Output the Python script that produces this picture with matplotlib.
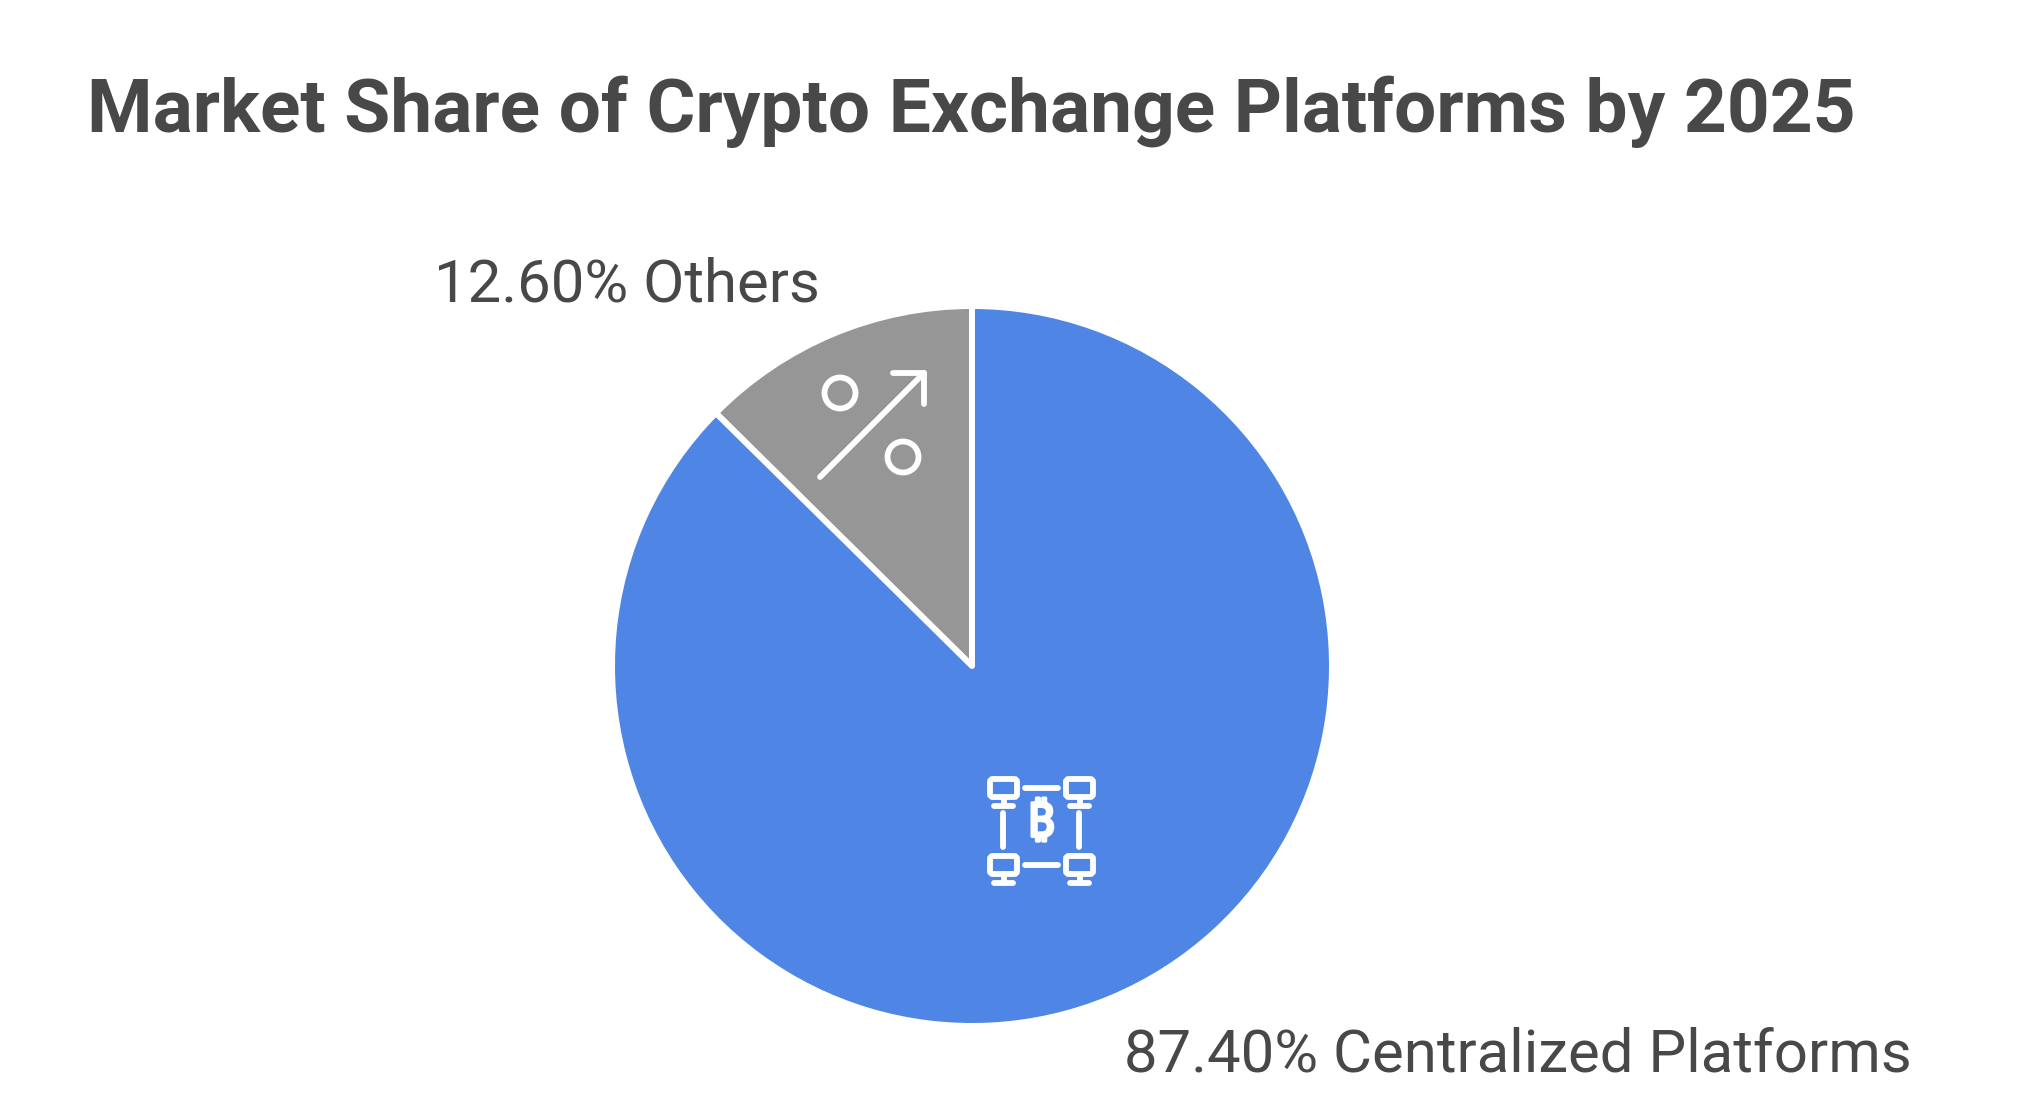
import matplotlib
matplotlib.use("Agg")
import matplotlib.pyplot as plt
import matplotlib.patheffects as pe
from matplotlib.patches import Circle, FancyBboxPatch

W, H = 2018, 1113
TITLE = "Market Share of Crypto Exchange Platforms by 2025"
categories = ["Others", "Centralized Platforms"]
shares = [12.60, 87.40]
colors = ["#969696", "#4F86E6"]
INK = "#484848"

plt.rcParams["font.family"] = ["Roboto", "DejaVu Sans"]
fig = plt.figure(figsize=(W / 100, H / 100), dpi=100, facecolor="white")

# pie
cx, cy, r = 972, 666, 360
ax = fig.add_axes([(cx - r) / W, 1 - (cy + r) / H, 2 * r / W, 2 * r / H])
ax.pie(shares, startangle=90, counterclock=True, colors=colors,
       wedgeprops=dict(edgecolor="white", linewidth=4.3, joinstyle="round"))
ax.set_xlim(-1, 1)
ax.set_ylim(-1, 1)
ax.set_aspect("equal")
ax.axis("off")

# overlay in pixel coordinates for text and the two white icons
ov = fig.add_axes([0, 0, 1, 1], zorder=5)
ov.set_xlim(0, W)
ov.set_ylim(H, 0)
ov.axis("off")
ov.patch.set_alpha(0)

ov.text(87, 132, TITLE, fontsize=53.9, fontweight="bold", color=INK, va="baseline", ha="left")
ov.text(434, 301, f"{shares[0]:.2f}% {categories[0]}", fontsize=43.1, color=INK, va="baseline", ha="left")
ov.text(1124, 1071, f"{shares[1]:.2f}% {categories[1]}", fontsize=43.1, color=INK, va="baseline", ha="left")

lw = 4.2
def line(xs, ys, w=lw):
    ov.plot(xs, ys, color="white", lw=w, solid_capstyle="round", solid_joinstyle="round")

# percent-arrow icon
line([820, 924], [477, 373])
line([893, 924, 924], [373, 373, 404])
for c in [(840, 393), (903, 457)]:
    ov.add_patch(Circle(c, 15.5, fill=False, ec="white", lw=lw))

# network / bitcoin icon
for mx, my in [(990, 779), (1066, 779), (990, 856), (1066, 856)]:
    ov.add_patch(FancyBboxPatch((mx + 3, my + 3), 21, 12, boxstyle="round,pad=3",
                                fill=False, ec="white", lw=lw))
    line([mx + 13.5, mx + 13.5], [my + 18, my + 26])
    line([mx + 4, mx + 23], [my + 27, my + 27])
line([1025, 1058], [788, 788])
line([1025, 1058], [865, 865])
line([1003, 1003], [813, 847])
line([1079, 1079], [813, 847])
ov.text(1041, 824, "\u20bf",
        family=["Noto Sans", "Inter", "Open Sans", "Lato", "Liberation Sans",
                "Noto Sans CJK SC", "DejaVu Sans"],
        fontsize=34, fontweight="bold", color="white", ha="center", va="center",
        path_effects=[pe.withStroke(linewidth=2.2, foreground="white")])

fig.savefig("out.png", dpi=100, facecolor="white")
